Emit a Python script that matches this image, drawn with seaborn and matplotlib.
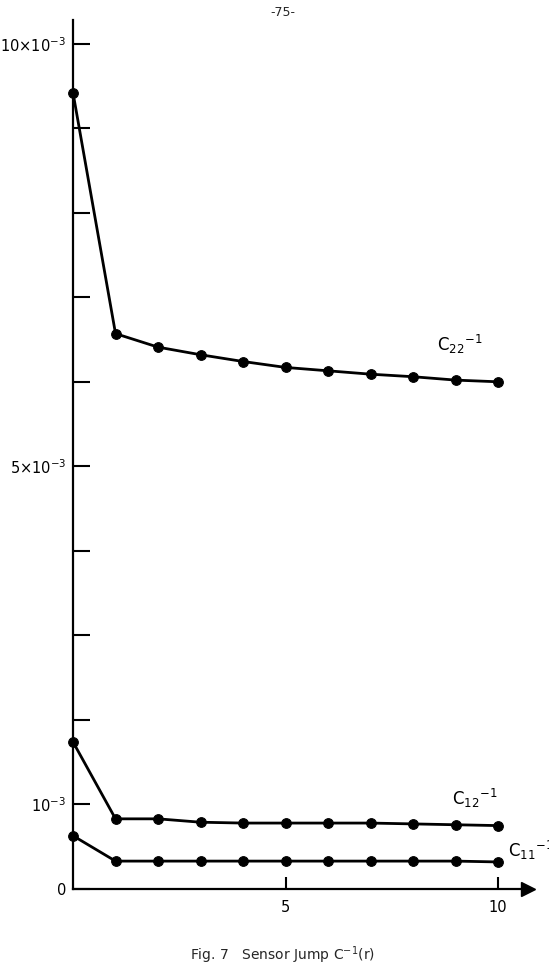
import matplotlib
matplotlib.use("Agg")
import matplotlib.pyplot as plt
import seaborn as sns
import pandas as pd

# Values, in units of 10^-3
r = [0, 1, 2, 3, 4, 5, 6, 7, 8, 9, 10]
c22 = [9.42, 6.57, 6.41, 6.32, 6.24, 6.17, 6.13, 6.09, 6.06, 6.02, 6.00]
c12 = [1.74, 0.83, 0.83, 0.79, 0.78, 0.78, 0.78, 0.78, 0.77, 0.76, 0.75]
c11 = [0.63, 0.33, 0.33, 0.33, 0.33, 0.33, 0.33, 0.33, 0.33, 0.33, 0.32]

series_names = ["C22", "C12", "C11"]
ytick_vals = [0, 1, 2, 3, 4, 5, 6, 7, 8, 9, 10]
ytick_text = ["0", r"10$^{-3}$", "", "", "", r"5×10$^{-3}$", "", "", "", "", r"10×10$^{-3}$"]
xtick_vals = [5, 10]
xtick_text = ["5", "10"]

df = pd.DataFrame({
    "r": r * 3,
    "value": c22 + c12 + c11,
    "series": [s for s in series_names for _ in r],
})

sns.set_theme(style="ticks")
plt.rcParams["font.family"] = ["DejaVu Sans"]
plt.rcParams["mathtext.fontset"] = "dejavusans"

fig = plt.figure(figsize=(5.49, 9.76), dpi=100)
ax = fig.add_axes([73 / 549, 1 - 889 / 976, 455 / 549, 869 / 976])

sns.lineplot(
    data=df, x="r", y="value", hue="series", units="series", estimator=None,
    palette=["black"] * 3, marker="o", markersize=7, linewidth=2,
    markeredgecolor="black", legend=False, ax=ax, clip_on=False,
)

ax.set_xlim(0, 10.7)
ax.set_ylim(0, 10.28)
ax.set_xlabel("")
ax.set_ylabel("")

for side in ["top", "right"]:
    ax.spines[side].set_visible(False)
for side in ["left", "bottom"]:
    ax.spines[side].set_linewidth(1.6)
    ax.spines[side].set_color("black")

ax.set_yticks(ytick_vals)
ax.set_yticklabels(ytick_text)
ax.set_xticks(xtick_vals)
ax.set_xticklabels(xtick_text)
ax.tick_params(axis="y", direction="in", length=12, width=1.5, pad=5, labelsize=10.5, colors="black")
ax.tick_params(axis="x", direction="in", length=9, width=1.5, pad=8, labelsize=10.5, colors="black")

# arrow head at the end of the r axis
ax.plot([10.7], [0], marker=">", markersize=10, color="black", clip_on=False,
        transform=ax.get_xaxis_transform())

# curve labels
ax.text(8.56, 6.36, r"$\mathrm{C}_{22}{}^{-1}$", fontsize=12, color="black")
ax.text(8.92, 0.99, r"$\mathrm{C}_{12}{}^{-1}$", fontsize=12, color="black")
ax.text(10.24, 0.38, r"$\mathrm{C}_{11}{}^{-1}$", fontsize=12, color="black", clip_on=False)

fig.text(283 / 549, 1 - 12 / 976, "-75-", ha="center", va="center", fontsize=9)
fig.text(282 / 549, 1 - 955 / 976, r"Fig. 7   Sensor Jump C$^{-1}$(r)", ha="center", va="center", fontsize=10)

fig.savefig("out.png", dpi=100)
